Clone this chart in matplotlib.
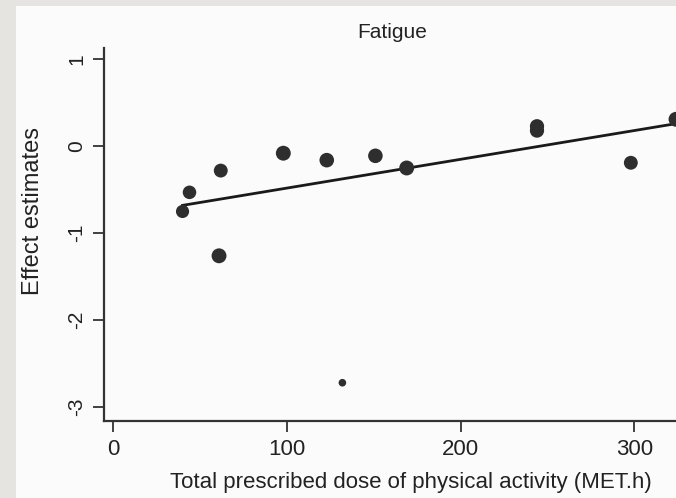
import matplotlib
matplotlib.use("Agg")
import matplotlib.pyplot as plt
from matplotlib.patches import Rectangle
import numpy as np

# Data
dose = [40, 44, 62, 61, 98, 123, 151, 169, 244, 244, 298, 324, 132]
effect = [-0.75, -0.53, -0.28, -1.26, -0.08, -0.16, -0.11, -0.25, 0.23, 0.18, -0.19, 0.31, -2.72]
marker_size = [90, 95, 100, 115, 115, 110, 110, 115, 105, 105, 100, 115, 30]
fit_x = [40, 324]
fit_y = [-0.68, 0.26]
x_ticks = [0, 100, 200, 300]
y_ticks = [1, 0, -1, -2, -3]

plt.rcParams['font.family'] = ['Liberation Sans', 'DejaVu Sans']

W, H = 676, 498
fig = plt.figure(figsize=(W / 100, H / 100), dpi=100)
fig.patch.set_facecolor('#e6e4e0')
bg = Rectangle((16 / W, 0), 1 - 16 / W, 1 - 6 / H,
               transform=fig.transFigure, facecolor='#fbfbfb',
               edgecolor='none', zorder=-10)
fig.patches.append(bg)

ax = fig.add_axes([104 / W, 1 - 421 / H, 1 - 104 / W, (421 - 48) / H])
ax.set_zorder(5)
ax.patch.set_alpha(0)
ax.set_xlim(-5.2, 324)
ax.set_ylim(-3.16, 1.13)

ax.plot(fit_x, fit_y, color='#1a1a1a', lw=2.0, zorder=2)
ax.scatter(dose, effect, s=marker_size, color='#2e2e2e', edgecolors='none', zorder=3,
           clip_on=False)

for s in ['top', 'right']:
    ax.spines[s].set_visible(False)
for s in ['left', 'bottom']:
    ax.spines[s].set_linewidth(1.6)
    ax.spines[s].set_color('#333333')

ax.set_xticks(x_ticks)
ax.set_yticks(y_ticks)
ax.set_xticklabels([str(t) for t in x_ticks], fontsize=16, color='#222222')
ax.set_yticklabels([str(t) for t in y_ticks], fontsize=15, color='#222222',
                   rotation=90, va='center')
ax.tick_params(axis='both', direction='out', length=8, width=1.3, color='#333333',
               pad=5)

fig.text(392 / W, 1 - 33 / H, 'Fatigue', ha='center', va='center', fontsize=15,
         color='#222222')
fig.text(411 / W, 1 - 482 / H, 'Total prescribed dose of physical activity (MET.h)',
         ha='center', va='center', fontsize=16, color='#222222')
fig.text(33 / W, 1 - 211 / H, 'Effect estimates', ha='center', va='center',
         rotation=90, fontsize=17, color='#222222')

fig.savefig('out.png', dpi=100, facecolor=fig.get_facecolor())
